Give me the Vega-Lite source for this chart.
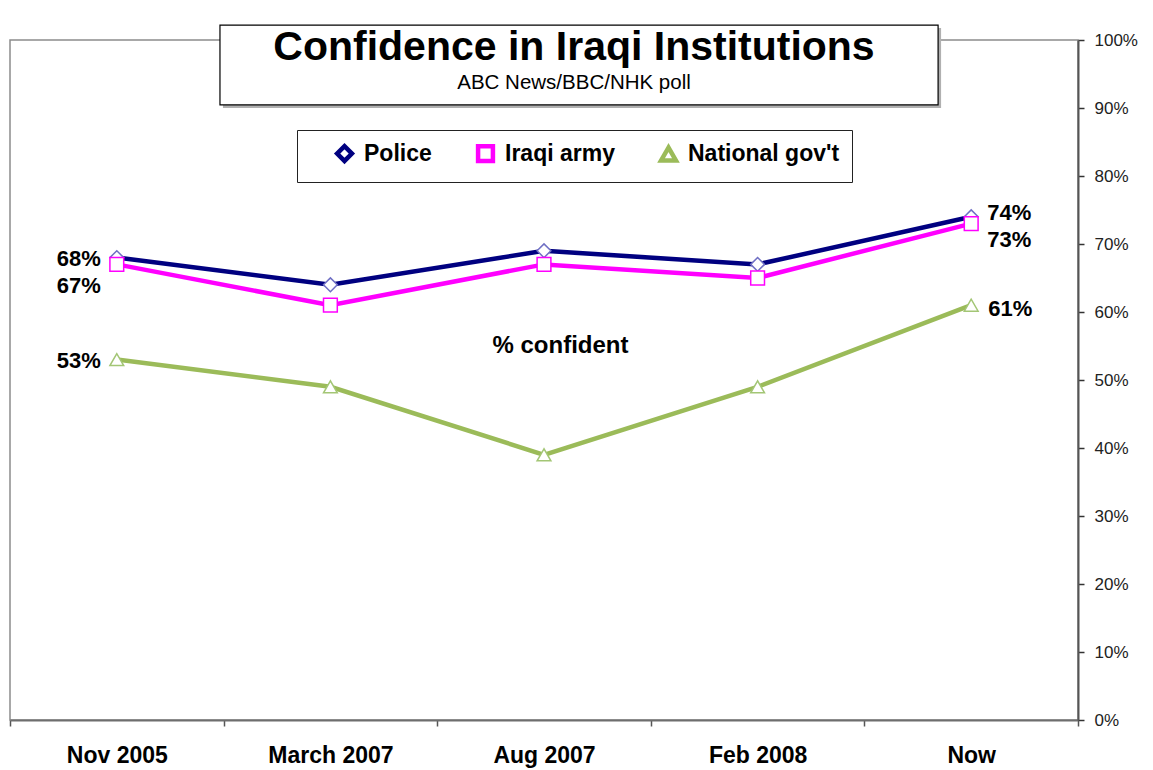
{
  "$schema": "https://vega.github.io/schema/vega-lite/v6.json",
  "width": 1068,
  "height": 680,
  "autosize": {"type": "none"},
  "padding": {"left": 10, "top": 40, "right": 75, "bottom": 50},
  "background": "white",
  "title": {
    "text": "Confidence in Iraqi Institutions",
    "subtitle": "ABC News/BBC/NHK poll",
    "anchor": "middle",
    "frame": "group",
    "dx": 30,
    "offset": -70,
    "font": "Liberation Sans",
    "fontSize": 41,
    "fontWeight": "bold",
    "color": "black",
    "subtitleFont": "Liberation Sans",
    "subtitleFontSize": 20.5,
    "subtitleColor": "black",
    "subtitlePadding": 4
  },
  "data": {
    "values": [
      {"date": "Nov 2005", "series": "Police", "value": 68},
      {"date": "March 2007", "series": "Police", "value": 64},
      {"date": "Aug 2007", "series": "Police", "value": 69},
      {"date": "Feb 2008", "series": "Police", "value": 67},
      {"date": "Now", "series": "Police", "value": 74},
      {"date": "Nov 2005", "series": "Iraqi army", "value": 67},
      {"date": "March 2007", "series": "Iraqi army", "value": 61},
      {"date": "Aug 2007", "series": "Iraqi army", "value": 67},
      {"date": "Feb 2008", "series": "Iraqi army", "value": 65},
      {"date": "Now", "series": "Iraqi army", "value": 73},
      {"date": "Nov 2005", "series": "National gov't", "value": 53},
      {"date": "March 2007", "series": "National gov't", "value": 49},
      {"date": "Aug 2007", "series": "National gov't", "value": 39},
      {"date": "Feb 2008", "series": "National gov't", "value": 49},
      {"date": "Now", "series": "National gov't", "value": 61}
    ]
  },
  "transform": [{"calculate": "datum.value + '%'", "as": "label"}],
  "resolve": {"scale": {"x": "independent"}, "axis": {"x": "independent"}},
  "layer": [
    {
      "data": {"values": [{}]},
      "layer": [
        {
          "mark": {"type": "rect", "fill": "#b0b0b0", "stroke": null},
          "encoding": {
            "x": {"datum": 0.997, "type": "quantitative", "scale": {"domain": [0, 5]}, "axis": null},
            "x2": {"datum": 4.359},
            "y": {"datum": 101.76, "type": "quantitative"},
            "y2": {"datum": 90.0}
          }
        },
        {
          "mark": {"type": "rect", "fill": "white", "stroke": "black", "strokeWidth": 1.2},
          "encoding": {
            "x": {"datum": 0.983, "type": "quantitative", "scale": {"domain": [0, 5]}, "axis": null},
            "x2": {"datum": 4.345},
            "y": {"datum": 102.2, "type": "quantitative"},
            "y2": {"datum": 90.45}
          }
        }
      ]
    },
    {
      "encoding": {
        "x": {
          "field": "date",
          "type": "nominal",
          "sort": ["Nov 2005", "March 2007", "Aug 2007", "Feb 2008", "Now"],
          "scale": {"type": "band", "paddingInner": 0, "paddingOuter": 0},
          "axis": {
            "title": null,
            "orient": "bottom",
            "labelAngle": 0,
            "tickBand": "extent",
            "domainColor": "#6e6e6e",
            "domainWidth": 2,
            "tickColor": "#555555",
            "tickSize": 6,
            "tickWidth": 1.5,
            "labelFont": "Liberation Sans",
            "labelFontSize": 23,
            "labelFontWeight": "bold",
            "labelColor": "black",
            "labelPadding": 18
          }
        },
        "y": {
          "field": "value",
          "type": "quantitative",
          "scale": {"domain": [0, 100]},
          "axis": {
            "orient": "right",
            "values": [0, 10, 20, 30, 40, 50, 60, 70, 80, 90, 100],
            "labelExpr": "datum.value + '%'",
            "grid": false,
            "domainColor": "#555555",
            "domainWidth": 2,
            "tickColor": "#333333",
            "tickSize": 6,
            "tickWidth": 1.5,
            "labelFont": "Liberation Sans",
            "labelFontSize": 17,
            "labelColor": "#222222",
            "labelPadding": 10,
            "title": "% confident",
            "titleAngle": 0,
            "titleX": -518,
            "titleY": 305,
            "titleAlign": "center",
            "titleBaseline": "middle",
            "titleFont": "Liberation Sans",
            "titleFontSize": 24,
            "titleFontWeight": "bold",
            "titleColor": "black"
          }
        }
      },
      "layer": [
        {
          "mark": {"type": "line"},
          "encoding": {
            "color": {
              "field": "series",
              "type": "nominal",
              "scale": {"domain": ["Police", "Iraqi army", "National gov't"], "range": ["#000080", "#FF00FF", "#9BBB59"]},
              "legend": {"title": null, "encode": {"symbols": {"update": {"fill": {"value": "white"}, "strokeWidth": {"value": 2}}}}}
            },
            "strokeWidth": {
              "field": "series",
              "type": "nominal",
              "scale": {"domain": ["Police", "Iraqi army", "National gov't"], "range": [4.5, 4.5, 3.5]},
              "legend": null
            }
          }
        },
        {
          "mark": {"type": "point", "filled": false, "fill": "white", "fillOpacity": 1, "opacity": 1, "strokeWidth": 1.5, "size": 190},
          "encoding": {
            "shape": {
              "field": "series",
              "type": "nominal",
              "scale": {"domain": ["Police", "Iraqi army", "National gov't"], "range": ["diamond", "square", "triangle-up"]},
              "legend": {"title": null, "encode": {"symbols": {"update": {"fill": {"value": "white"}, "strokeWidth": {"value": 2}}}}}
            },
            "stroke": {
              "field": "series",
              "type": "nominal",
              "scale": {"domain": ["Police", "Iraqi army", "National gov't"], "range": ["#6f6fc4", "#FF00FF", "#a3c675"]},
              "legend": null
            }
          }
        },
        {
          "transform": [{"filter": "datum.date == 'Nov 2005' && datum.series != 'Iraqi army'"}],
          "mark": {"type": "text", "align": "right", "baseline": "middle", "dx": -16, "dy": 1, "font": "Liberation Sans", "fontSize": 22, "fontWeight": "bold", "color": "black"},
          "encoding": {"text": {"field": "label"}}
        },
        {
          "transform": [{"filter": "datum.date == 'Nov 2005' && datum.series == 'Iraqi army'"}],
          "mark": {"type": "text", "align": "right", "baseline": "middle", "dx": -16, "dy": 22, "font": "Liberation Sans", "fontSize": 22, "fontWeight": "bold", "color": "black"},
          "encoding": {"text": {"field": "label"}}
        },
        {
          "transform": [{"filter": "datum.date == 'Now' && datum.series == 'Police'"}],
          "mark": {"type": "text", "align": "left", "baseline": "middle", "dx": 16, "dy": -4, "font": "Liberation Sans", "fontSize": 22, "fontWeight": "bold", "color": "black"},
          "encoding": {"text": {"field": "label"}}
        },
        {
          "transform": [{"filter": "datum.date == 'Now' && datum.series == 'Iraqi army'"}],
          "mark": {"type": "text", "align": "left", "baseline": "middle", "dx": 16, "dy": 16, "font": "Liberation Sans", "fontSize": 22, "fontWeight": "bold", "color": "black"},
          "encoding": {"text": {"field": "label"}}
        },
        {
          "transform": [{"filter": "datum.date == 'Now' && datum.series == \"National gov't\""}],
          "mark": {"type": "text", "align": "left", "baseline": "middle", "dx": 17, "dy": 4, "font": "Liberation Sans", "fontSize": 22, "fontWeight": "bold", "color": "black"},
          "encoding": {"text": {"field": "label"}}
        }
      ]
    }
  ],
  "config": {
    "view": {"stroke": "#8c8c8c", "strokeWidth": 1.5},
    "font": "Liberation Sans",
    "legend": {
      "orient": "none",
      "legendX": 287,
      "legendY": 90,
      "direction": "horizontal",
      "strokeColor": "#222222",
      "fillColor": "white",
      "padding": 12,
      "columnPadding": 18,
      "labelFont": "Liberation Sans",
      "labelFontSize": 23,
      "labelFontWeight": "bold",
      "labelColor": "black",
      "labelOffset": 8,
      "symbolOffset": 24,
      "symbolSize": 220,
      "symbolStrokeWidth": 2,
      "symbolFillColor": "white"
    }
  }
}
